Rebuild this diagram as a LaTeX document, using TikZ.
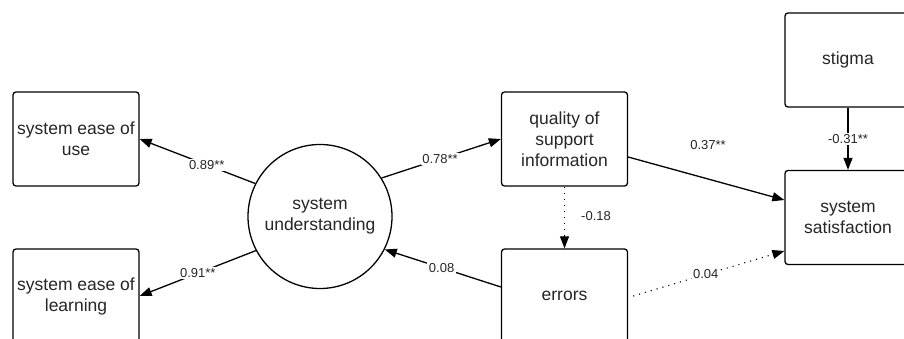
\documentclass[tikz,border=0pt]{standalone}
\usepackage{fontspec}
\setmainfont{Liberation Sans}
\usetikzlibrary{arrows.meta}
\begin{document}
\begin{tikzpicture}[x=1pt,y=-1pt,
  box/.style={draw, line width=1.3pt, rounded corners=3pt, minimum width=126pt, minimum height=94pt,
    align=center, font=\fontsize{17.5}{21}\selectfont, text=black!85},
  circnode/.style={draw, line width=1.3pt, circle, minimum size=144pt, inner sep=0pt,
    align=center, font=\fontsize{17.5}{21}\selectfont, text=black!85},
  arr/.style={line width=1.3pt, -{Triangle[length=12pt,width=9pt]}},
  dotarr/.style={line width=1.1pt, dash pattern=on 1.1pt off 5pt, -{Triangle[length=12pt,width=9pt]}},
  lbl/.style={fill=white, inner sep=1.5pt, font=\fontsize{13}{15}\selectfont, text=black!85},
  lblnf/.style={inner sep=1.5pt, font=\fontsize{13}{15}\selectfont, text=black!85}]
\clip (0,0) rectangle (904,339);
\fill[white] (0,0) rectangle (904,339);
\node[box] (ease) at (76,139) {system ease of\\use};
\node[box] (learn) at (76,296) {system ease of\\learning};
\node[circnode] (circ) at (320,216.5) {system\\understanding};
\node[box] (qual) at (564.5,139) {quality of\\support\\information};
\node[box] (err) at (564.5,296) {errors};
\node[box] (stig) at (848,60) {stigma};
\node[box] (sat) at (848,217.5) {system\\satisfaction};
\draw[arr] (circ.153) -- node[lbl,pos=0.42] {0.89**} (ease.east);
\draw[arr] (circ.208.7) -- node[lbl,pos=0.5] {0.91**} (learn.east);
\draw[arr] (circ.32.7) -- node[lbl,pos=0.49] {0.78**} (qual.west);
\draw[arr] ([yshift=9pt]err.west) -- node[lbl,pos=0.51] {0.08} (circ.-27.3);
\draw[arr] ([yshift=-18pt]qual.east) -- ([yshift=17.5pt]sat.west);
\node[lblnf] (l37) at (708,145) {0.37**};
\draw[arr] (stig.south) -- node[lbl,pos=0.5] {-0.31**} (sat.north);
\draw[dotarr] ([xshift=5pt]err.east) -- node[lbl,pos=0.48] {0.04} ([yshift=-33.5pt]sat.west);
\draw[dotarr] (qual.south) -- (err.north);
\node[lblnf] (l18) at (596,216) {-0.18};
\end{tikzpicture}
\end{document}
